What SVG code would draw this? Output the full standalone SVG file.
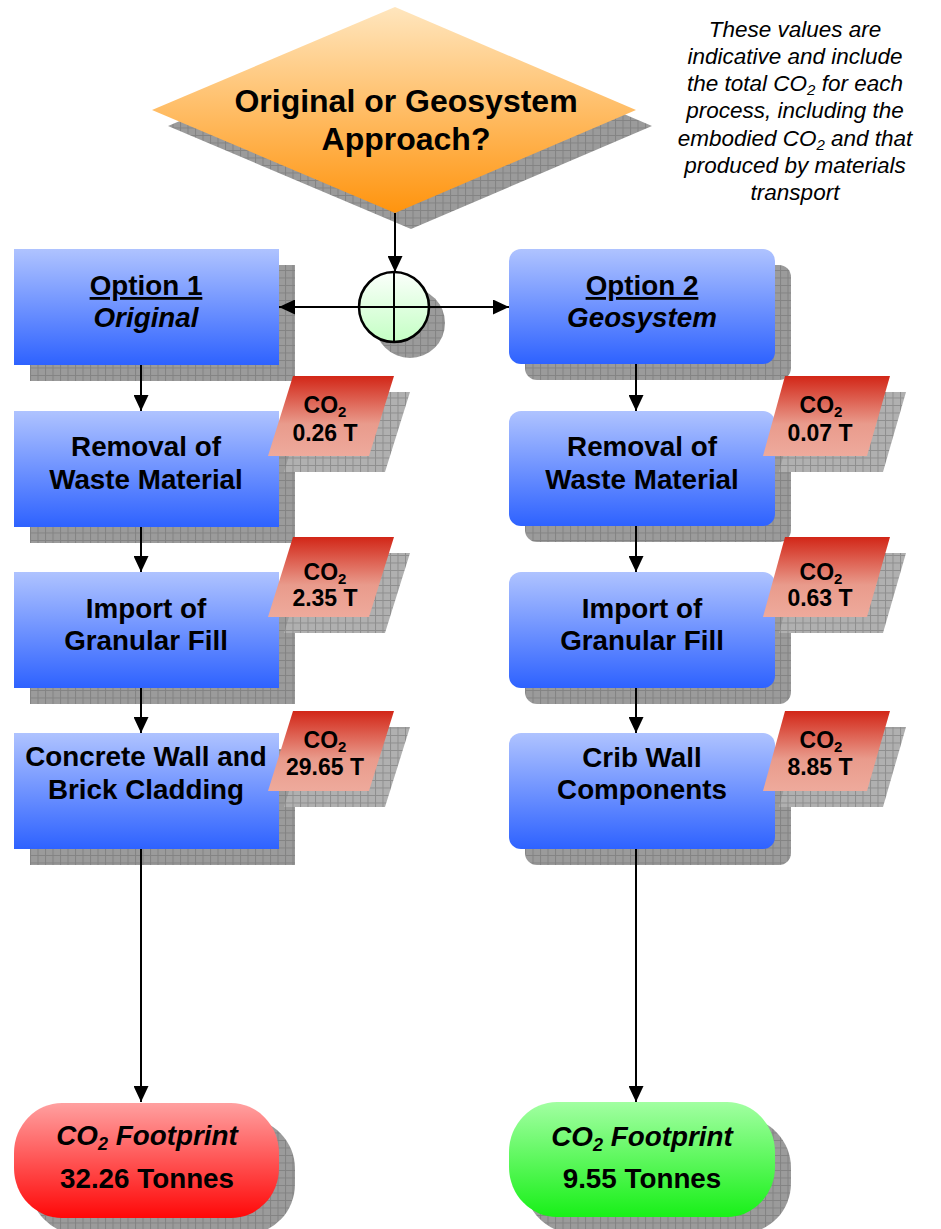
<svg xmlns="http://www.w3.org/2000/svg" width="941" height="1229" viewBox="0 0 941 1229">
<style>
.lbl{font-family:"Liberation Sans",Arial,sans-serif;font-weight:bold;font-size:27.8px;fill:#000;text-anchor:middle}
.dia{font-family:"Liberation Sans",Arial,sans-serif;font-weight:bold;font-size:32px;fill:#000;text-anchor:middle}
.co2{font-family:"Liberation Sans",Arial,sans-serif;font-weight:bold;font-size:23px;fill:#000;text-anchor:middle}
.note{font-family:"Liberation Sans",Arial,sans-serif;font-style:italic;font-size:22.5px;fill:#000;text-anchor:middle}
.it{font-style:italic}
.box{fill:url(#gBlue)}
.shd{fill:url(#hatch)}
.shd2{fill:url(#hatch2)}
.par{fill:url(#gRed)}
.con{fill:none;stroke:#000;stroke-width:2}
</style>
<defs>
<pattern id="hatch" width="7.5" height="7.5" patternUnits="userSpaceOnUse">
<rect width="7.5" height="7.5" fill="#9b9b9b"/>
<path d="M0 0.5H7.5M0.5 0V7.5" stroke="#838383" stroke-width="1"/>
</pattern>
<pattern id="hatch2" width="7.5" height="7.5" patternUnits="userSpaceOnUse">
<rect width="7.5" height="7.5" fill="#b0b0b0"/>
<path d="M0 0.5H7.5M0.5 0V7.5" stroke="#8e8e8e" stroke-width="1"/>
</pattern>
<linearGradient id="gBlue" x1="0" y1="0" x2="0" y2="1">
<stop offset="0" stop-color="#AFC3FF"/>
<stop offset="1" stop-color="#2E62FF"/>
</linearGradient>
<linearGradient id="gOrange" x1="0" y1="0" x2="0" y2="1">
<stop offset="0" stop-color="#FFE6BE"/>
<stop offset="1" stop-color="#FF940E"/>
</linearGradient>
<linearGradient id="gRed" x1="0" y1="0" x2="0" y2="1">
<stop offset="0" stop-color="#D22617"/>
<stop offset="0.6" stop-color="#E99B8C"/>
<stop offset="1" stop-color="#EEAA9C"/>
</linearGradient>
<linearGradient id="gCircle" x1="0" y1="0" x2="0" y2="1">
<stop offset="0" stop-color="#FBFFFB"/>
<stop offset="1" stop-color="#C4FFC4"/>
</linearGradient>
<linearGradient id="gPink" x1="0" y1="0" x2="0" y2="1">
<stop offset="0" stop-color="#FFA0A0"/>
<stop offset="1" stop-color="#FF0808"/>
</linearGradient>
<linearGradient id="gGreen" x1="0" y1="0" x2="0" y2="1">
<stop offset="0" stop-color="#A2FFA2"/>
<stop offset="1" stop-color="#18F018"/>
</linearGradient>
<marker id="arr" markerUnits="userSpaceOnUse" markerWidth="16" markerHeight="15" refX="16" refY="7.5" orient="auto">
<path d="M0,0 L16,7.5 L0,15 Z" fill="#000"/>
</marker>
</defs>
<rect width="941" height="1229" fill="#fff"/>

<g id="note">
<text class="note" x="795" y="37">These values are</text>
<text class="note" x="795" y="64">indicative and include</text>
<text class="note" x="795" y="91">the total CO<tspan font-size="15" dy="4">2</tspan><tspan dy="-4"> for each</tspan></text>
<text class="note" x="795" y="118">process, including the</text>
<text class="note" x="795" y="146">embodied CO<tspan font-size="15" dy="4">2</tspan><tspan dy="-4"> and that</tspan></text>
<text class="note" x="795" y="173">produced by materials</text>
<text class="note" x="795" y="200">transport</text>
</g>

<g id="decision">
<polygon class="shd" points="411,23 652,126 411,229 168,126"/>
<polygon fill="url(#gOrange)" points="395,7 636,110 395,213 152,110"/>
<text class="dia" x="406" y="112">Original or Geosystem</text>
<text class="dia" x="406" y="150">Approach?</text>
</g>

<g id="junction">
<circle class="shd" cx="410" cy="323" r="35"/>
<circle cx="394" cy="307" r="35" fill="url(#gCircle)" stroke="#000" stroke-width="2.5"/>
</g>

<g id="option1">
<rect class="shd" x="30" y="265" width="265" height="116"/>
<rect class="box" x="14" y="249" width="265" height="116"/>
<text class="lbl" x="146" y="295" text-decoration="underline">Option 1</text>
<text class="lbl it" x="146" y="327">Original</text>
</g>

<g id="option2">
<rect class="shd" x="525" y="265" width="266" height="115" rx="12"/>
<rect class="box" x="509" y="249" width="266" height="115" rx="12"/>
<text class="lbl" x="642" y="295" text-decoration="underline">Option 2</text>
<text class="lbl it" x="642" y="327">Geosystem</text>
</g>

<g id="removal1">
<rect class="shd" x="30" y="427" width="265" height="116"/>
<rect class="box" x="14" y="411" width="265" height="116"/>
<text class="lbl" x="146" y="456">Removal of</text>
<text class="lbl" x="146" y="489">Waste Material</text>
</g>

<g id="import1">
<rect class="shd" x="30" y="588" width="265" height="116"/>
<rect class="box" x="14" y="572" width="265" height="116"/>
<text class="lbl" x="146" y="618">Import of</text>
<text class="lbl" x="146" y="650">Granular Fill</text>
</g>

<g id="concrete1">
<rect class="shd" x="30" y="749" width="265" height="116"/>
<rect class="box" x="14" y="733" width="265" height="116"/>
<text class="lbl" x="146" y="766">Concrete Wall and</text>
<text class="lbl" x="146" y="799">Brick Cladding</text>
</g>

<g id="removal2">
<rect class="shd" x="525" y="427" width="266" height="115" rx="12"/>
<rect class="box" x="509" y="411" width="266" height="115" rx="12"/>
<text class="lbl" x="642" y="456">Removal of</text>
<text class="lbl" x="642" y="489">Waste Material</text>
</g>

<g id="import2">
<rect class="shd" x="525" y="588" width="266" height="116" rx="12"/>
<rect class="box" x="509" y="572" width="266" height="116" rx="12"/>
<text class="lbl" x="642" y="618">Import of</text>
<text class="lbl" x="642" y="650">Granular Fill</text>
</g>

<g id="crib2">
<rect class="shd" x="525" y="749" width="266" height="116" rx="12"/>
<rect class="box" x="509" y="733" width="266" height="116" rx="12"/>
<text class="lbl" x="642" y="767">Crib Wall</text>
<text class="lbl" x="642" y="799">Components</text>
</g>

<g id="co2-removal1">
<polygon class="shd2" points="309,392 410,392 385,472 284,472"/>
<polygon class="par" points="293,376 394,376 369,456 268,456"/>
<text class="co2" x="325" y="413">CO<tspan font-size="15" dy="4">2</tspan></text>
<text class="co2" x="325" y="441">0.26 T</text>
</g>

<g id="co2-import1">
<polygon class="shd2" points="309,553 410,553 385,633 284,633"/>
<polygon class="par" points="293,537 394,537 369,617 268,617"/>
<text class="co2" x="325" y="580">CO<tspan font-size="15" dy="4">2</tspan></text>
<text class="co2" x="325" y="606">2.35 T</text>
</g>

<g id="co2-concrete1">
<polygon class="shd2" points="309,727 410,727 385,807 284,807"/>
<polygon class="par" points="293,711 394,711 369,791 268,791"/>
<text class="co2" x="325" y="748">CO<tspan font-size="15" dy="4">2</tspan></text>
<text class="co2" x="325" y="775">29.65 T</text>
</g>

<g id="co2-removal2">
<polygon class="shd2" points="801,392 906,392 883,472 779,472"/>
<polygon class="par" points="785,376 890,376 867,456 763,456"/>
<text class="co2" x="821" y="413">CO<tspan font-size="15" dy="4">2</tspan></text>
<text class="co2" x="820" y="441">0.07 T</text>
</g>

<g id="co2-import2">
<polygon class="shd2" points="801,553 906,553 883,633 779,633"/>
<polygon class="par" points="785,537 890,537 867,617 763,617"/>
<text class="co2" x="821" y="580">CO<tspan font-size="15" dy="4">2</tspan></text>
<text class="co2" x="820" y="606">0.63 T</text>
</g>

<g id="co2-crib2">
<polygon class="shd2" points="801,727 906,727 883,807 779,807"/>
<polygon class="par" points="785,711 890,711 867,791 763,791"/>
<text class="co2" x="821" y="748">CO<tspan font-size="15" dy="4">2</tspan></text>
<text class="co2" x="820" y="775">8.85 T</text>
</g>

<g id="footprint1">
<rect class="shd" x="30" y="1119" width="265" height="115" rx="48" ry="50"/>
<rect fill="url(#gPink)" x="14" y="1103" width="265" height="115" rx="48" ry="50"/>
<text class="lbl it" x="147" y="1145">CO<tspan font-size="18" dy="5">2</tspan><tspan dy="-5"> Footprint</tspan></text>
<text class="lbl" x="147" y="1188">32.26 Tonnes</text>
</g>

<g id="footprint2">
<rect class="shd" x="525" y="1118" width="266" height="115" rx="48" ry="50"/>
<rect fill="url(#gGreen)" x="509" y="1102" width="266" height="115" rx="48" ry="50"/>
<text class="lbl it" x="642" y="1146">CO<tspan font-size="18" dy="5">2</tspan><tspan dy="-5"> Footprint</tspan></text>
<text class="lbl" x="642" y="1188">9.55 Tonnes</text>
</g>

<g id="connectors">
<path class="con" d="M395,213 V272" marker-end="url(#arr)"/>
<path class="con" d="M394,272 V342 M359,307 H429"/>
<path class="con" d="M359,307 H279" marker-end="url(#arr)"/>
<path class="con" d="M429,307 H509" marker-end="url(#arr)"/>
<path class="con" d="M141,365 V411" marker-end="url(#arr)"/>
<path class="con" d="M141,527 V572" marker-end="url(#arr)"/>
<path class="con" d="M141,688 V733" marker-end="url(#arr)"/>
<path class="con" d="M141,849 V1102" marker-end="url(#arr)"/>
<path class="con" d="M636,364 V411" marker-end="url(#arr)"/>
<path class="con" d="M636,526 V572" marker-end="url(#arr)"/>
<path class="con" d="M636,688 V733" marker-end="url(#arr)"/>
<path class="con" d="M636,849 V1102" marker-end="url(#arr)"/>
</g>
</svg>
